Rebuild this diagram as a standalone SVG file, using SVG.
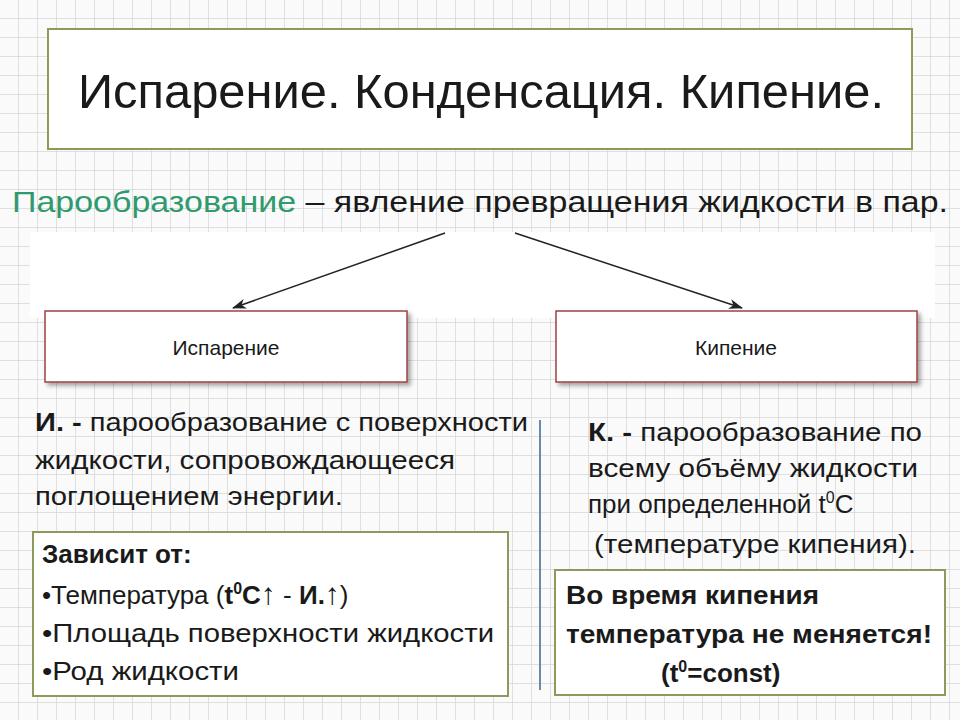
<svg xmlns="http://www.w3.org/2000/svg" width="960" height="720" viewBox="0 0 960 720">
<defs>
<pattern id="grid" width="19" height="19" patternUnits="userSpaceOnUse">
<rect width="19" height="19" fill="#fafafa"/>
<path d="M19 0V19M0 19H19" stroke="#d6d6d6" stroke-width="1.5" fill="none"/>
</pattern>
<marker id="arr" markerWidth="14" markerHeight="10" refX="13" refY="5" orient="auto" markerUnits="userSpaceOnUse">
<path d="M0 0L14 5L0 10L4 5Z" fill="#222"/>
</marker>
<filter id="sh" x="-5%" y="-10%" width="115%" height="130%"><feDropShadow dx="3" dy="3" stdDeviation="2" flood-color="#000" flood-opacity="0.35"/></filter>
</defs>
<style>
text{font-family:"Liberation Sans",Arial,sans-serif;fill:#1a1a1a}
.t{font-size:26px}
.b{font-weight:bold}
.gb{fill:#fff;stroke:#8c9a5a;stroke-width:2}
.rb{fill:#fff;stroke:#a04040;stroke-width:1.5}
</style>
<rect width="960" height="720" fill="url(#grid)"/>
<g id="title">
<rect class="gb" x="48" y="29" width="864" height="120"/>
<text x="78" y="108" font-size="48" textLength="806" lengthAdjust="spacingAndGlyphs">Испарение. Конденсация. Кипение.</text>
</g>
<g id="definition">
<text x="12" y="212" font-size="30" textLength="936" lengthAdjust="spacingAndGlyphs"><tspan style="fill:#2e9a6e">Парообразование</tspan> – явление превращения  жидкости в пар.</text>
</g>
<rect x="30" y="232" width="905" height="86" fill="#fff"/>
<g id="connectors">
<line x1="445" y1="233" x2="233" y2="308" stroke="#222" stroke-width="1.5" marker-end="url(#arr)"/>
<line x1="515" y1="233" x2="742" y2="308" stroke="#222" stroke-width="1.5" marker-end="url(#arr)"/>
<line x1="540" y1="420" x2="540" y2="690" stroke="#6a8aaa" stroke-width="2"/>
</g>
<g id="isp">
<rect class="rb" x="45" y="311" width="362" height="71" filter="url(#sh)"/>
<text x="226" y="355" font-size="21" text-anchor="middle">Испарение</text>
</g>
<g id="kip">
<rect class="rb" x="556" y="311" width="361" height="71" filter="url(#sh)"/>
<text x="736" y="355" font-size="21" text-anchor="middle">Кипение</text>
</g>
<g id="isp-text">
<text x="35" y="431" class="t" textLength="493" lengthAdjust="spacingAndGlyphs"><tspan class="b">И. -</tspan> парообразование с поверхности</text>
<text x="35" y="469" class="t" textLength="420" lengthAdjust="spacingAndGlyphs">жидкости, сопровождающееся</text>
<text x="35" y="505" class="t" textLength="308" lengthAdjust="spacingAndGlyphs">поглощением энергии.</text>
</g>
<g id="kip-text">
<text x="588" y="441" class="t" textLength="334" lengthAdjust="spacingAndGlyphs"><tspan class="b">К. -</tspan> парообразование по</text>
<text x="588" y="477" class="t" textLength="330" lengthAdjust="spacingAndGlyphs">всему объёму жидкости</text>
<text x="588" y="513" class="t">при определенной  t<tspan font-size="16" dy="-10">0</tspan><tspan dy="10">С</tspan></text>
<text x="594" y="553" class="t" textLength="322" lengthAdjust="spacingAndGlyphs">(температуре кипения).</text>
</g>
<g id="depends">
<rect class="gb" x="33" y="532" width="475" height="164"/>
<text x="42" y="563" class="t b">Зависит от:</text>
<text x="42" y="604" class="t">•Температура (<tspan class="b">t</tspan><tspan class="b" font-size="16" dy="-10">0</tspan><tspan class="b" dy="10">С</tspan><tspan class="b" font-size="30">↑</tspan> - <tspan class="b">И.</tspan><tspan class="b" font-size="30">↑</tspan>)</text>
<text x="42" y="642" class="t" textLength="452" lengthAdjust="spacingAndGlyphs">•Площадь поверхности жидкости</text>
<text x="42" y="680" class="t" textLength="197" lengthAdjust="spacingAndGlyphs">•Род жидкости</text>
</g>
<g id="const">
<rect class="gb" x="555" y="570" width="390" height="125"/>
<text x="566" y="604" class="t b" textLength="253" lengthAdjust="spacingAndGlyphs">Во время кипения</text>
<text x="566" y="643" class="t b" textLength="366" lengthAdjust="spacingAndGlyphs">температура не меняется!</text>
<text x="661" y="682" class="t b">(t<tspan font-size="16" dy="-10">0</tspan><tspan dy="10">=const)</tspan></text>
</g>
</svg>
